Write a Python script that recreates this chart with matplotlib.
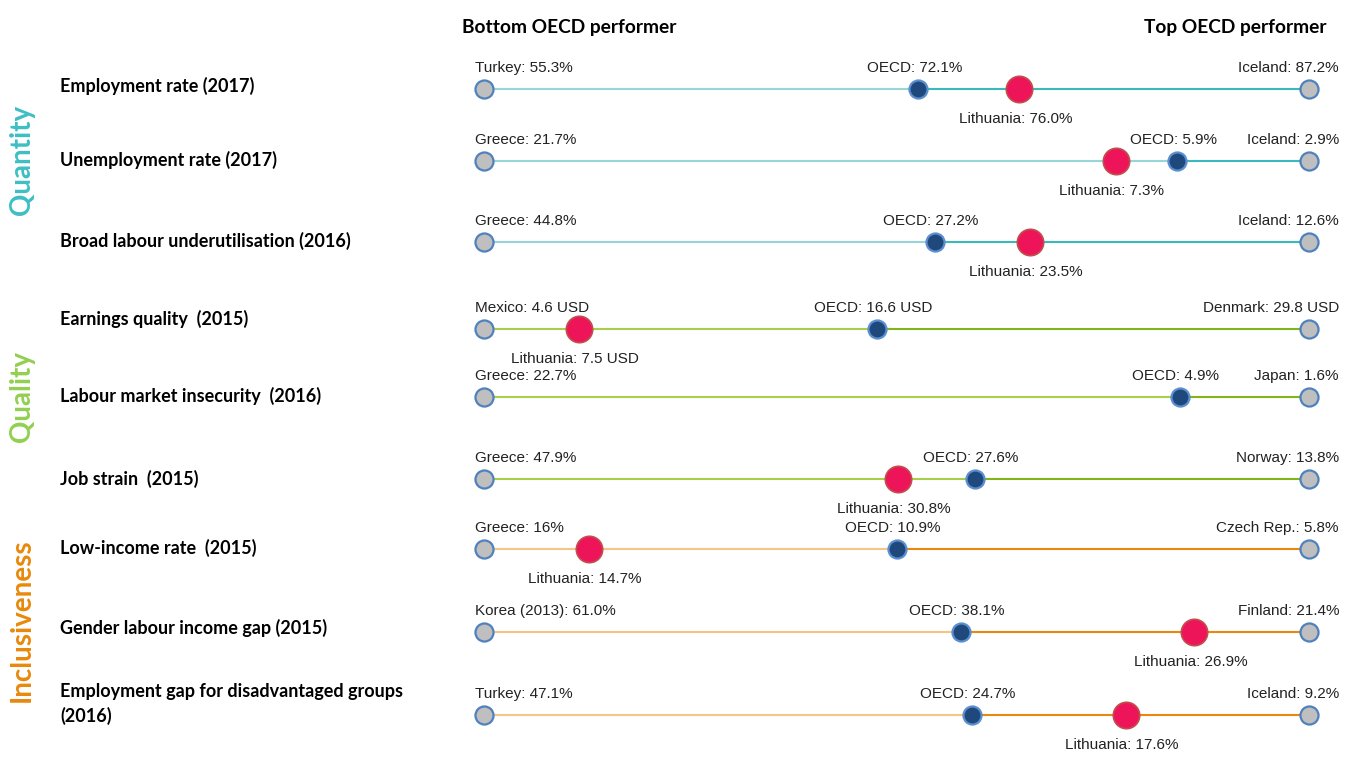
import matplotlib
matplotlib.use("Agg")
import matplotlib.pyplot as plt
from matplotlib import font_manager

# indicator rows (top to bottom)
indicators = ["Employment rate (2017)", "Unemployment rate (2017)",
              "Broad labour underutilisation (2016)", "Earnings quality  (2015)",
              "Labour market insecurity  (2016)", "Job strain  (2015)",
              "Low-income rate  (2015)", "Gender labour income gap (2015)",
              "Employment gap for disadvantaged groups\n(2016)"]
groups = ["Quantity", "Quality", "Inclusiveness"]
group_of_row = [0, 0, 0, 1, 1, 1, 2, 2, 2]

bottom_vals = [55.3, 21.7, 44.8, 4.6, 22.7, 47.9, 16.0, 61.0, 47.1]
top_vals = [87.2, 2.9, 12.6, 29.8, 1.6, 13.8, 5.8, 21.4, 9.2]
oecd_vals = [72.1, 5.9, 27.2, 16.6, 4.9, 27.6, 10.9, 38.1, 24.7]
ltu_vals = [76.0, 7.3, 23.5, 7.5, None, 30.8, 14.7, 26.9, 17.6]

bottom_labels = ["Turkey: 55.3%", "Greece: 21.7%", "Greece: 44.8%", "Mexico: 4.6 USD",
                 "Greece: 22.7%", "Greece: 47.9%", "Greece: 16%", "Korea (2013): 61.0%",
                 "Turkey: 47.1%"]
top_labels = ["Iceland: 87.2%", "Iceland: 2.9%", "Iceland: 12.6%", "Denmark: 29.8 USD",
              "Japan: 1.6%", "Norway: 13.8%", "Czech Rep.: 5.8%", "Finland: 21.4%",
              "Iceland: 9.2%"]
oecd_labels = ["OECD: 72.1%", "OECD: 5.9%", "OECD: 27.2%", "OECD: 16.6 USD", "OECD: 4.9%",
               "OECD: 27.6%", "OECD: 10.9%", "OECD: 38.1%", "OECD: 24.7%"]
ltu_labels = ["Lithuania: 76.0%", "Lithuania: 7.3%", "Lithuania: 23.5%", "Lithuania: 7.5 USD",
              None, "Lithuania: 30.8%", "Lithuania: 14.7%", "Lithuania: 26.9%",
              "Lithuania: 17.6%"]

# layout (pixels)
W, H = 1348, 758
row_y = [89, 161, 242, 329, 397, 479, 549, 632, 715]
label_y = [86, 160, 241, 319, 396, 479, 548, 628, 704]
group_y = [160, 396, 620]
light_col = ["#97D5D9", "#A9CF4A", "#F5C585"]
dark_col = ["#3DB8BC", "#82B51A", "#E8890C"]
group_col = ["#3DBFC4", "#92D050", "#E8890C"]

avail = {f.name for f in font_manager.fontManager.ttflist}
lab_font = "Liberation Sans Narrow" if "Liberation Sans Narrow" in avail else "Liberation Sans"
lab_size = 12.5 if lab_font == "Liberation Sans Narrow" else 11
bold_font = "Lato"

fig = plt.figure(figsize=(W / 100, H / 100), dpi=100)
x0, x1 = 484, 1309
ax = fig.add_axes([x0 / W, 0, (x1 - x0) / W, 1])
ax.set_xlim(0, 1)
ax.set_ylim(H, 0)
ax.axis("off")

px = 1.0 / (x1 - x0)  # one pixel in axis units

for i in range(len(indicators)):
    b, t = bottom_vals[i], top_vals[i]
    frac = lambda v: (v - b) / (t - b)
    y = row_y[i]
    g = group_of_row[i]
    fo = frac(oecd_vals[i])
    ax.plot([0, fo], [y, y], color=light_col[g], lw=1.5, zorder=1, solid_capstyle="butt")
    ax.plot([fo, 1], [y, y], color=dark_col[g], lw=1.5, zorder=1, solid_capstyle="butt")
    ax.plot([0, 1], [y, y], ls="none", marker="o", ms=13, mfc="#BFBFBF",
            mec="#4F81BD", mew=1.6, zorder=3, clip_on=False)
    ax.plot([fo], [y], ls="none", marker="o", ms=13, mfc="#1F497D",
            mec="#5B8FD0", mew=1.6, zorder=4)
    ax.text(0 - 9 * px, y - 21, bottom_labels[i], ha="left", va="center",
            family=lab_font, fontsize=lab_size, color="#222222")
    ax.text(1 + 30 * px, y - 21, top_labels[i], ha="right", va="center",
            family=lab_font, fontsize=lab_size, color="#222222", clip_on=False)
    ax.text(fo - 4 * px, y - 21, oecd_labels[i], ha="center", va="center",
            family=lab_font, fontsize=lab_size, color="#222222")
    if ltu_vals[i] is not None:
        fl = frac(ltu_vals[i])
        ax.plot([fl], [y], ls="none", marker="o", ms=19, mfc="#EE1459",
                mec="#C0504D", mew=1.2, zorder=5)
        ax.text(fl - 4 * px, y + 30, ltu_labels[i], ha="center", va="center",
                family=lab_font, fontsize=lab_size, color="#222222")

# row names
for i, name in enumerate(indicators):
    fig.text(60 / W, 1 - label_y[i] / H, name, ha="left", va="center",
             family=bold_font, fontweight="bold", fontsize=13, linespacing=1.4)

# group names
for g, name in enumerate(groups):
    fig.text(22 / W, 1 - group_y[g] / H, name, rotation=90, ha="center", va="center",
             family=bold_font, fontweight="bold", fontsize=20, color=group_col[g])

fig.text(462 / W, 1 - 27 / H, "Bottom OECD performer", ha="left", va="center",
         family=bold_font, fontweight="bold", fontsize=13.8)
fig.text(1327 / W, 1 - 27 / H, "Top OECD performer", ha="right", va="center",
         family=bold_font, fontweight="bold", fontsize=13.8)

fig.savefig("out.png", dpi=100, facecolor="white")
